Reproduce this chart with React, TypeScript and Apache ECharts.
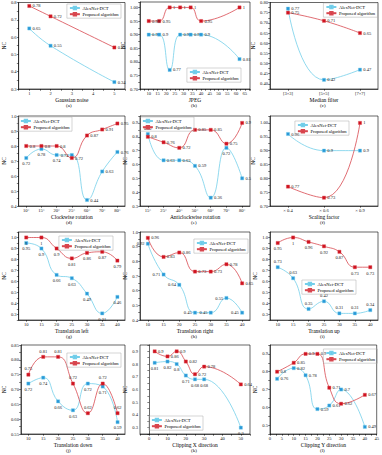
import React, { useEffect, useRef } from 'react';
import * as echarts from 'echarts';

const NAME_A = 'AlexNet-DCT';
const NAME_P = 'Proposed algorithm';

// (a) Gaussian noise
const aX = [1, 2, 5];
const aAlex = [0.65, 0.55, 0.34];
const aProp = [0.78, 0.72, 0.54];
const aXTicks = [1, 2, 3, 4, 5];
const aYTicks = [0.3, 0.4, 0.5, 0.6, 0.7, 0.8];

// (b) JPEG
const bX = [10, 16, 22, 28, 34, 40, 62];
const bAlex = [0.9, 0.9, 0.77, 0.9, 0.9, 0.9, 0.81];
const bProp = [0.95, 0.95, 1, 1, 1, 0.95, 1];
const bXTicks = [10, 15, 20, 25, 30, 35, 40, 45, 50, 55, 60, 65];
const bYTicks = [0.7, 0.75, 0.8, 0.85, 0.9, 0.95, 1.0];

// (c) Median filter
const cCats = ['[3×3]', '[5×5]', '[7×7]'];
const cAlex = [0.77, 0.42, 0.47];
const cProp = [0.75, 0.71, 0.65];
const cYTicks = [0.4, 0.45, 0.5, 0.55, 0.6, 0.65, 0.7, 0.75, 0.8];

// (d) Clockwise rotation
const dCats = ['10°', '15°', '20°', '25°', '60°', '70°', '80°'];
const dAlex = [0.72, 0.78, 0.74, 0.74, 0.44, 0.63, 0.76];
const dProp = [0.8, 0.8, 0.8, 0.72, 0.87, 0.91, 0.95];
const dYTicks = [0.4, 0.5, 0.6, 0.7, 0.8, 0.9, 1.0];

// (e) Anticlockwise rotation
const eCats = ['15°', '25°', '40°', '50°', '60°', '70°', '80°'];
const eAlex = [0.82, 0.63, 0.63, 0.59, 0.36, 0.72, 0.5];
const eProp = [0.8, 0.76, 0.72, 0.85, 0.85, 0.75, 0.9];
const eYTicks = [0.3, 0.4, 0.5, 0.6, 0.7, 0.8, 0.9];

// (f) Scaling factor
const fCats = ['× 0.4', '× 0.6', '× 0.9'];
const fAlex = [0.96, 0.9, 0.9];
const fProp = [0.77, 0.73, 1];
const fYTicks = [0.7, 0.75, 0.8, 0.85, 0.9, 0.95, 1.0];

// (g) Translation left
const gCats = ['10', '15', '20', '25', '30', '35', '40'];
const gAlex = [0.95, 0.9, 0.66, 0.63, 0.49, 0.31, 0.46];
const gProp = [1, 1, 0.9, 0.81, 0.86, 0.87, 0.79];
const gYTicks = [0.3, 0.4, 0.5, 0.6, 0.7, 0.8, 0.9, 1.0];

// (h) Translation right
const hCats = ['10', '15', '20', '25', '30', '35', '40'];
const hAlex = [0.92, 0.71, 0.64, 0.45, 0.45, 0.55, 0.45];
const hProp = [0.96, 0.83, 0.86, 0.73, 0.73, 0.78, 0.65];
const hYTicks = [0.4, 0.5, 0.6, 0.7, 0.8, 0.9, 1.0];

// (i) Translation up
const iCats = ['10', '15', '20', '25', '30', '35', '40'];
const iAlex = [0.73, 0.63, 0.35, 0.42, 0.31, 0.31, 0.34];
const iProp = [0.95, 1, 0.96, 0.92, 0.87, 0.73, 0.73];
const iYTicks = [0.3, 0.4, 0.5, 0.6, 0.7, 0.8, 0.9, 1.0];

// (j) Translation down
const jCats = ['10', '15', '20', '25', '30', '35', '40'];
const jAlex = [0.72, 0.74, 0.66, 0.63, 0.72, 0.71, 0.59];
const jProp = [0.75, 0.81, 0.81, 0.72, 0.62, 0.72, 0.62];
const jYTicks = [0.55, 0.6, 0.65, 0.7, 0.75, 0.8, 0.85];

// (k) Clipping X direction
const kX = [3, 10, 15, 20, 25, 30, 50];
const kAlex = [0.81, 0.82, 0.8, 0.71, 0.68, 0.68, 0.3];
const kProp = [0.9, 0.86, 0.9, 0.82, 0.72, 0.78, 0.64];
const kXTicks = [0, 10, 20, 30, 40, 50];
const kYTicks = [0.3, 0.4, 0.5, 0.6, 0.7, 0.8, 0.9];

// (l) Clipping Y direction
const lX = [3, 10, 15, 20, 25, 30, 40];
const lAlex = [0.76, 0.82, 0.78, 0.59, 0.61, 0.7, 0.49];
const lProp = [0.8, 0.85, 0.9, 0.9, 0.71, 0.62, 0.67];
const lXTicks = [0, 5, 10, 15, 20, 25, 30, 35, 40, 45];
const lYTicks = [0.5, 0.6, 0.7, 0.8, 0.9];

const FONT = '"Liberation Serif", "DejaVu Serif", serif';
const BLUE_LINE = '#74cfea';
const BLUE_MARK = '#2a98d8';
const RED_LINE = '#d8474f';
const RED_MARK = '#d0121f';
const W = 382;

type Panel = {
  letter: string;
  xName: string;
  cats?: string[];
  x?: number[];
  alex: number[];
  prop: number[];
  xRange?: [number, number, number];
  xTicks?: number[];
  yRange: [number, number, number];
  yTicks: number[];
  yDec: number;
  legendPos: [number, number]; // right edge x, top y
  labelPos: [any, any];
  labelOverride?: [Record<number, any>, Record<number, any>];
};

const R = 'right';
const panels: Panel[] = [
  { letter: '(a)', xName: 'Gaussian noise', x: aX, alex: aAlex, prop: aProp, xRange: [0.5, 5.5, 0.5], xTicks: aXTicks, yRange: [0.3, 0.8, 0.05], yTicks: aYTicks, yDec: 1, legendPos: [121, 4], labelPos: [R, R] },
  { letter: '(b)', xName: 'JPEG', x: bX, alex: bAlex, prop: bProp, xRange: [5, 68, 2.5], xTicks: bXTicks, yRange: [0.7, 1.02, 0.025], yTicks: bYTicks, yDec: 2, legendPos: [241, 68], labelPos: [R, R] },
  { letter: '(c)', xName: 'Median filter', cats: cCats, alex: cAlex, prop: cProp, yRange: [0.375, 0.8, 0.025], yTicks: cYTicks, yDec: 2, legendPos: [377.5, 3], labelPos: [R, R] },
  { letter: '(d)', xName: 'Clockwise rotation', cats: dCats, alex: dAlex, prop: dProp, yRange: [0.4, 1.0, 0.05], yTicks: dYTicks, yDec: 1, legendPos: [72, 117], labelPos: ['bottom', R], labelOverride: [{ 3: 'left', 4: R, 5: R, 6: R }, {}] },
  { letter: '(e)', xName: 'Anticlockwise rotation', cats: eCats, alex: eAlex, prop: eProp, yRange: [0.3, 0.95, 0.05], yTicks: eYTicks, yDec: 1, legendPos: [194, 117], labelPos: [R, R], labelOverride: [{ 0: 'top', 5: 'bottom' }, {}] },
  { letter: '(f)', xName: 'Scaling factor', cats: fCats, alex: fAlex, prop: fProp, yRange: [0.7, 1.025, 0.025], yTicks: fYTicks, yDec: 2, legendPos: [349, 121], labelPos: [R, R] },
  { letter: '(g)', xName: 'Translation left', cats: gCats, alex: gAlex, prop: gProp, yRange: [0.25, 1.05, 0.05], yTicks: gYTicks, yDec: 1, legendPos: [113, 236], labelPos: ['bottom', 'bottom'] },
  { letter: '(h)', xName: 'Translation right', cats: hCats, alex: hAlex, prop: hProp, yRange: [0.4, 1.0, 0.05], yTicks: hYTicks, yDec: 1, legendPos: [248, 239], labelPos: ['left', R] },
  { letter: '(i)', xName: 'Translation up', cats: iCats, alex: iAlex, prop: iProp, yRange: [0.25, 1.05, 0.05], yTicks: iYTicks, yDec: 1, legendPos: [356, 280], labelPos: ['top', 'bottom'] },
  { letter: '(j)', xName: 'Translation down', cats: jCats, alex: jAlex, prop: jProp, yRange: [0.55, 0.85, 0.025], yTicks: jYTicks, yDec: 2, legendPos: [121, 353], labelPos: ['bottom', 'top'] },
  { letter: '(k)', xName: 'Clipping X direction', x: kX, alex: kAlex, prop: kProp, xRange: [-5, 55, 5], xTicks: kXTicks, yRange: [0.25, 0.95, 0.05], yTicks: kYTicks, yDec: 1, legendPos: [203, 416], labelPos: ['bottom', R] },
  { letter: '(l)', xName: 'Clipping Y direction', x: lX, alex: lAlex, prop: lProp, xRange: [0, 45, 2.5], xTicks: lXTicks, yRange: [0.45, 0.95, 0.05], yTicks: lYTicks, yDec: 1, legendPos: [377.5, 349], labelPos: [R, R] },
];

const colLeft = [15, 140, 270];
const colW = [110, 110, 108];
const rowTop = [2, 116, 232, 345];
const rowH = [87, 90, 88, 89];

const tickFmt = (ticks: number[], dec: number) => (v: number) =>
  ticks.some((t) => Math.abs(t - v) < 1e-6) ? (dec === 0 ? String(Math.round(v)) : v.toFixed(dec)) : '';

function buildOption() {
  const grid: any[] = [];
  const xAxis: any[] = [];
  const yAxis: any[] = [];
  const series: any[] = [];
  const legend: any[] = [];
  const graphic: any[] = [];

  const axisCommon = {
    axisLine: { show: true, lineStyle: { color: '#000', width: 0.6 } },
    axisTick: { show: true, length: 1.8, lineStyle: { color: '#000', width: 0.5 } },
    splitLine: { show: false },
    nameTextStyle: { fontFamily: FONT, fontSize: 5.5, color: '#000' },
  };
  const labelStyle = { fontFamily: FONT, fontSize: 4.6, color: '#222', margin: 2 };

  panels.forEach((p, i) => {
    const col = i % 3;
    const row = Math.floor(i / 3);
    const left = colLeft[col];
    const top = rowTop[row];
    const width = colW[col];
    const height = rowH[row];
    grid.push({ left, top, width, height, show: true, borderColor: '#000', borderWidth: 0.6, containLabel: false });

    if (p.cats) {
      xAxis.push({
        ...axisCommon,
        gridIndex: i,
        type: 'category',
        data: p.cats,
        boundaryGap: true,
        axisTick: { ...axisCommon.axisTick, alignWithLabel: true },
        axisLabel: { ...labelStyle, interval: 0 },
        name: p.xName,
        nameLocation: 'middle',
        nameGap: 7.5,
      });
    } else {
      const [mn, mx, st] = p.xRange!;
      xAxis.push({
        ...axisCommon,
        gridIndex: i,
        type: 'value',
        min: mn,
        max: mx,
        interval: st,
        axisLabel: { ...labelStyle, formatter: tickFmt(p.xTicks!, 0) },
        name: p.xName,
        nameLocation: 'middle',
        nameGap: 7.5,
      });
    }
    const [ymn, ymx, yst] = p.yRange;
    yAxis.push({
      ...axisCommon,
      gridIndex: i,
      type: 'value',
      min: ymn,
      max: ymx,
      interval: yst,
      axisLabel: { ...labelStyle, formatter: tickFmt(p.yTicks, p.yDec) },
      name: 'NC',
      nameLocation: 'middle',
      nameGap: col === 2 ? 10 : 6,
    });

    const mk = (name: string, vals: number[], lineColor: string, markColor: string, pos: any, over: Record<number, any>) => ({
      type: 'line',
      name,
      xAxisIndex: i,
      yAxisIndex: i,
      smooth: 0.5,
      symbol: 'rect',
      symbolSize: 3.2,
      data: vals.map((v, j) => {
        const value = p.cats ? v : [p.x![j], v];
        return over && over[j] ? { value, label: { position: over[j] } } : value;
      }),
      lineStyle: { color: lineColor, width: 0.8 },
      itemStyle: { color: markColor, borderColor: lineColor, borderWidth: 0.4 },
      label: {
        show: true,
        position: pos,
        distance: 1.5,
        fontFamily: FONT,
        fontSize: 4.5,
        color: '#222',
        formatter: (d: any) => String(Array.isArray(d.value) ? d.value[1] : d.value),
      },
      z: name === NAME_P ? 3 : 2,
    });
    const ov = p.labelOverride || [{}, {}];
    series.push(mk(NAME_A, p.alex, BLUE_LINE, BLUE_MARK, p.labelPos[0], ov[0]));
    series.push(mk(NAME_P, p.prop, RED_LINE, RED_MARK, p.labelPos[1], ov[1]));

    legend.push({
      right: W - p.legendPos[0],
      top: p.legendPos[1],
      orient: 'vertical',
      data: [NAME_A, NAME_P],
      itemWidth: 10,
      itemHeight: 3,
      itemGap: 1.2,
      padding: [1.5, 2.5, 1.5, 2],
      borderColor: '#aaa',
      borderWidth: 0.5,
      textStyle: { fontFamily: FONT, fontSize: 4.6, color: '#000', padding: [0, 0, 0, -2.5] },
      selectedMode: false,
    });

    graphic.push({
      type: 'text',
      left: left + width / 2 - 4,
      top: top + height + 14,
      style: { text: p.letter, font: `5px ${FONT}`, fill: '#000' },
    });
  });

  return {
    animation: false,
    backgroundColor: '#fff',
    grid,
    xAxis,
    yAxis,
    series,
    legend,
    graphic,
  };
}

export default function App() {
  const ref = useRef<HTMLDivElement>(null);
  useEffect(() => {
    const chart = echarts.init(ref.current!, null, { renderer: 'svg' });
    chart.setOption(buildOption() as any);
    return () => chart.dispose();
  }, []);
  return <div ref={ref} style={{ position: 'absolute', left: 0, top: 0, width: 382, height: 455 }} />;
}
